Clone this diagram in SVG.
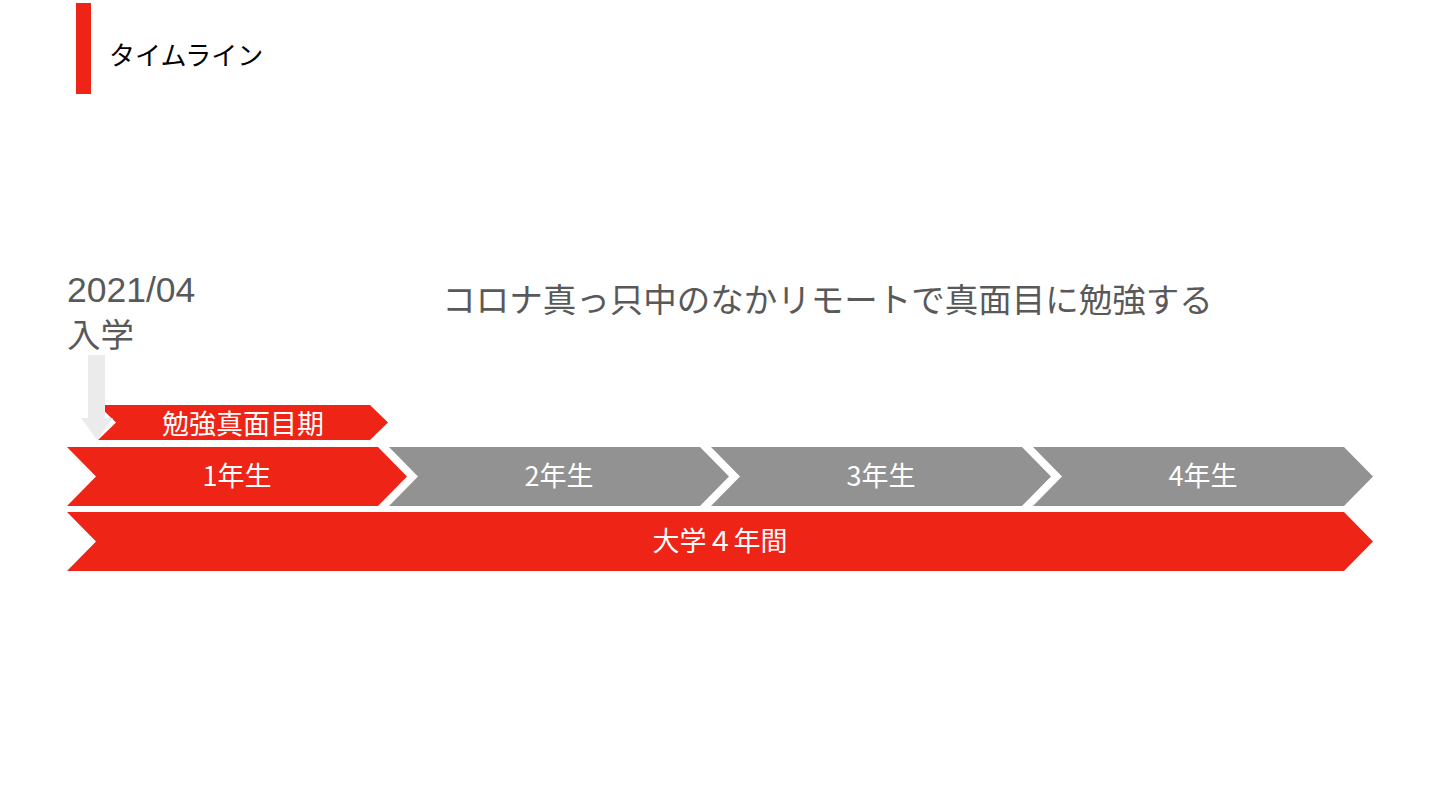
<svg xmlns="http://www.w3.org/2000/svg" width="1440" height="810" viewBox="0 0 1440 810">
<style>
.jp{font-family:"Noto Sans CJK JP","Liberation Sans",sans-serif}
.lbl{font-family:"Noto Sans CJK JP","Liberation Sans",sans-serif;font-size:27px;fill:#ffffff;text-anchor:middle}
.red{fill:#ee2416}
.gray{fill:#929292}
.dark{fill:#595959}
</style>
<rect width="1440" height="810" fill="#ffffff"/>
<g id="header">
<rect x="76" y="3" width="15" height="91" class="red"/>
<text x="109" y="65" class="jp" font-size="26" fill="#000000">タイムライン</text>
</g>
<g id="date">
<text x="67" y="302" font-family="Liberation Sans, Arial, sans-serif" font-size="35.5" class="dark">2021/04</text>
<text x="67" y="347" class="jp dark" font-size="33.5">入学</text>
</g>
<g id="note">
<text x="827.5" y="312" class="jp dark" font-size="33.5" text-anchor="middle">コロナ真っ只中のなかリモートで真面目に勉強する</text>
</g>
<g id="study-period">
<polygon class="red" points="98,405 370,405 388,422.5 370,440 98,440 116,422.5"/>
<text x="243" y="434" class="lbl" font-size="28">勉強真面目期</text>
</g>
<g id="connectors">
<polygon fill="#ebebeb" points="88,355 105,355 105,418 113,418 97,440 81,418 88,418"/>
</g>
<g id="year1">
<polygon class="red" points="67,447 378,447 407,476.5 378,506 67,506 96,476.5"/>
<text x="237" y="486" class="lbl">1年生</text>
</g>
<g id="year2">
<polygon class="gray" points="389,447 700,447 729,476.5 700,506 389,506 418,476.5"/>
<text x="559" y="486" class="lbl">2年生</text>
</g>
<g id="year3">
<polygon class="gray" points="711,447 1022,447 1051,476.5 1022,506 711,506 740,476.5"/>
<text x="881" y="486" class="lbl">3年生</text>
</g>
<g id="year4">
<polygon class="gray" points="1033,447 1344,447 1373,476.5 1344,506 1033,506 1062,476.5"/>
<text x="1203" y="486" class="lbl">4年生</text>
</g>
<g id="four-years">
<polygon class="red" points="67,512 1344,512 1373,541.5 1344,571 67,571 96,541.5"/>
<text x="720" y="551" class="lbl">大学４年間</text>
</g>
</svg>
